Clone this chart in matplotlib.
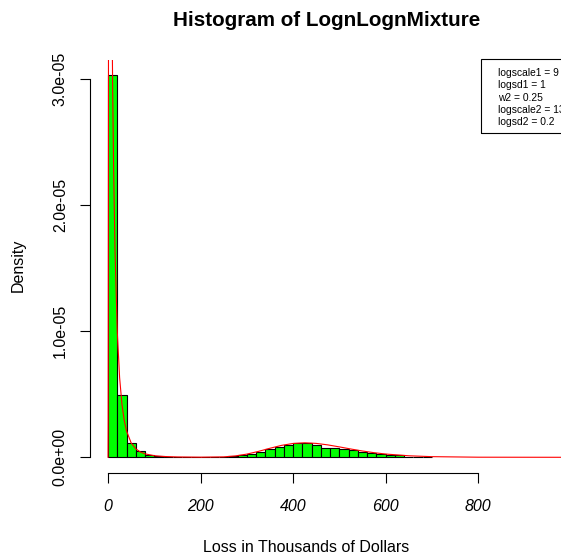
import matplotlib
matplotlib.use("Agg")
import matplotlib.pyplot as plt
from matplotlib.patches import Rectangle

plt.rcParams["font.family"] = ["Liberation Sans", "DejaVu Sans"]

# histogram bins (left edges, thousands of dollars) and density heights
bin_width = 20
bin_left = list(range(0, 700, 20))
density = [3.03e-5, 4.94e-6, 1.17e-6, 5.0e-7, 2.0e-7, 1.0e-7, 0.4e-7,
           0, 0, 0, 0, 0, 0,
           1.0e-7, 1.6e-7, 2.6e-7, 4.5e-7, 6.3e-7, 8.5e-7, 9.5e-7,
           1.16e-6, 1.11e-6, 1.0e-6, 7.4e-7, 7.2e-7, 6.9e-7, 5.6e-7,
           4.5e-7, 3.4e-7, 2.4e-7, 1.6e-7, 1.5e-7, 0.5e-7, 0.6e-7, 0.6e-7]

# fitted mixture density
curve_x = [0, 0.25, 0.5, 1, 2, 3, 5, 8, 10, 12, 15, 20, 25, 30, 35, 40, 50,
           60, 70, 80, 100, 120, 150, 200, 250, 275, 300, 325, 350, 375, 400,
           425, 450, 475, 500, 525, 550, 575, 600, 650, 700, 800, 1000, 1100]
curve_y = [0, 2.8e-6, 1.24e-5, 3.36e-5, 5.62e-5, 6.09e-5, 5.33e-5, 3.74e-5,
           2.93e-5, 2.31e-5, 1.65e-5, 9.95e-6, 6.34e-6, 4.23e-6, 2.93e-6,
           2.09e-6, 1.14e-6, 6.72e-7, 4.18e-7, 2.72e-7, 1.27e-7, 6.6e-8,
           2.8e-8, 1.0e-8, 3.4e-8, 1.08e-7, 2.52e-7, 4.67e-7, 7.17e-7,
           9.45e-7, 1.098e-6, 1.15e-6, 1.104e-6, 9.86e-7, 8.27e-7, 6.58e-7,
           5.01e-7, 3.67e-7, 2.60e-7, 1.21e-7, 5.1e-8, 7.8e-9, 0, 0]

x_ticks = [0, 200, 400, 600, 800]
y_ticks = [0, 1e-5, 2e-5, 3e-5]
y_ticklabels = ["0.0e+00", "1.0e-05", "2.0e-05", "3.0e-05"]
legend_lines = ["logscale1 = 9", "logsd1 = 1", "w2 = 0.25",
                "logscale2 = 13", "logsd2 = 0.2"]

W, H = 561, 557
fig = plt.figure(figsize=(W / 100, H / 100), dpi=100)
ax = fig.add_axes([90 / W, 1 - 473 / H, (577 - 90) / W, (473 - 60) / H])

ax.bar(bin_left, density, width=bin_width, align="edge", color="#00ff00",
       edgecolor="black", linewidth=0.8)
ax.plot(curve_x, curve_y, color="red", lw=0.8)

ax.set_xlim(-39, 1014)
ax.set_ylim(-1.246e-6, 3.153e-5)

for s in ["top", "right"]:
    ax.spines[s].set_visible(False)
ax.spines["bottom"].set_bounds(0, 800)
ax.spines["left"].set_bounds(0, 3e-5)
for s in ["bottom", "left"]:
    ax.spines[s].set_linewidth(0.8)

ax.set_xticks(x_ticks)
ax.set_xticklabels([str(t) for t in x_ticks], fontsize=11.5, style="italic")
ax.set_yticks(y_ticks)
ax.set_yticklabels(y_ticklabels, fontsize=11.5, rotation=90, va="center")
ax.tick_params(axis="both", length=7, width=0.8)
ax.tick_params(axis="x", pad=12)
ax.tick_params(axis="y", pad=9)

fig.text(327 / W, 1 - 26 / H, "Histogram of LognLognMixture",
         ha="center", va="baseline", fontsize=14.9, fontweight="bold")
fig.text(306 / W, 1 - 548 / H, "Loss in Thousands of Dollars",
         ha="center", va="center", fontsize=11.5)
fig.text(18 / W, 1 - 265 / H, "Density", ha="center", va="center",
         rotation=90, fontsize=11.5)

# legend box (runs past the right edge like the original)
fig.patches.append(Rectangle((481 / W, 1 - 133 / H), 100 / W, 74 / H,
                             transform=fig.transFigure, fill=False,
                             edgecolor="black", linewidth=0.8))
for i, line in enumerate(legend_lines):
    fig.text(498 / W, 1 - (73 + 12.3 * i) / H, line, fontsize=7.4,
             ha="left", va="center")

fig.savefig("out.png", dpi=100)
